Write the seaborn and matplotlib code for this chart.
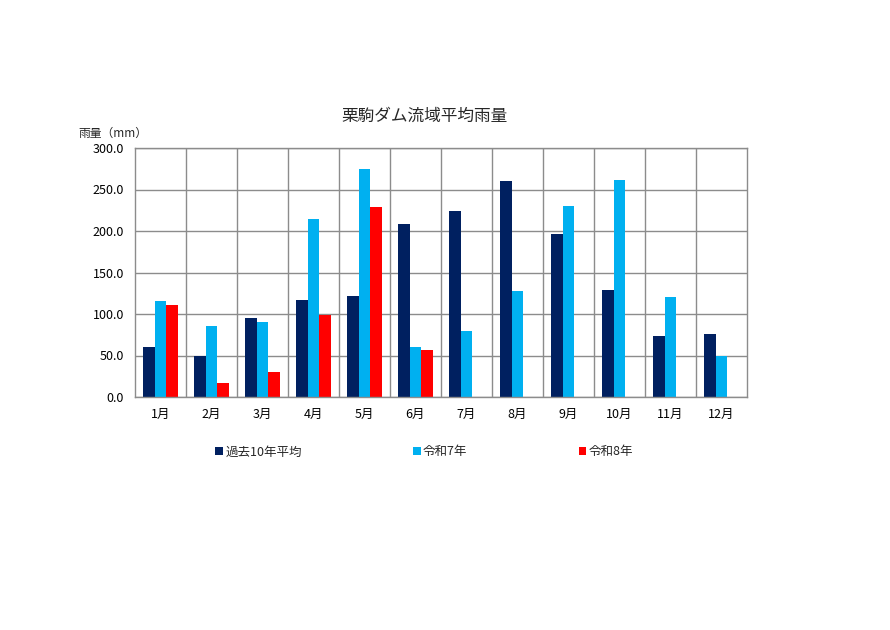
import matplotlib
matplotlib.use("Agg")
import matplotlib.pyplot as plt
import seaborn as sns
import pandas as pd
import numpy as np
from matplotlib.patches import Patch
from matplotlib.ticker import MultipleLocator, FormatStrFormatter

months = ["1月", "2月", "3月", "4月", "5月", "6月", "7月", "8月", "9月", "10月", "11月", "12月"]
series_names = ["過去10年平均", "令和7年", "令和8年"]
avg10 = [60, 49, 95, 117, 122, 208, 224, 260, 196, 129, 74, 76]
r7 = [116, 85, 90, 214, 275, 60, 79, 128, 230, 261, 121, 50]
r8 = [111, 17, 30, 99, 229, 57, None, None, None, None, None, None]
colors = ["#002060", "#00B0F0", "#FF0000"]

rows = []
for name, vals in zip(series_names, [avg10, r7, r8]):
    for m, v in zip(months, vals):
        if v is not None:
            rows.append({"月": m, "系列": name, "雨量": v})
df = pd.DataFrame(rows)

sns.set_theme(style="white")
plt.rcParams["font.family"] = ["Noto Sans CJK JP", "DejaVu Sans"]

fig = plt.figure(figsize=(8.9, 6.3), dpi=100)
ax = fig.add_axes([135/890, 1-397/630, (747-135)/890, (397-148)/630])

sns.barplot(data=df, x="月", y="雨量", hue="系列", order=months, hue_order=series_names,
            palette=colors, width=0.67, saturation=1, ax=ax, legend=False, errorbar=None,
            linewidth=0, edgecolor="none")

ax.set_ylim(0, 300)
ax.set_xlim(-0.5, 11.5)
ax.yaxis.set_major_locator(MultipleLocator(50))
ax.yaxis.set_major_formatter(FormatStrFormatter("%.1f"))
ax.set_xlabel("")
ax.set_ylabel("")
ax.grid(axis="y", color="#8c8c8c", linewidth=1)
for b in np.arange(0.5, 11.5, 1):
    ax.axvline(b, color="#8c8c8c", linewidth=1, zorder=0)
ax.set_axisbelow(True)
for s in ax.spines.values():
    s.set_color("#8c8c8c")
    s.set_linewidth(1)
ax.tick_params(axis="both", length=0, labelsize=9, colors="black")
ax.tick_params(axis="y", pad=8)
ax.tick_params(axis="x", pad=8)

fig.text(425/890, 1-116/630, "栗駒ダム流域平均雨量", ha="center", va="center", fontsize=12)
fig.text(78/890, 1-133/630, "雨量（mm）", ha="left", va="center", fontsize=8.5)

handles = [Patch(facecolor=c, edgecolor="none") for c in colors]
fig.legend(handles, series_names, loc="center left", bbox_to_anchor=(204/890, 1-452/630),
           ncol=3, frameon=False, fontsize=9, handlelength=0.6, handleheight=0.6,
           handletextpad=0.2, columnspacing=8.9)

fig.savefig("out.png", dpi=100)
